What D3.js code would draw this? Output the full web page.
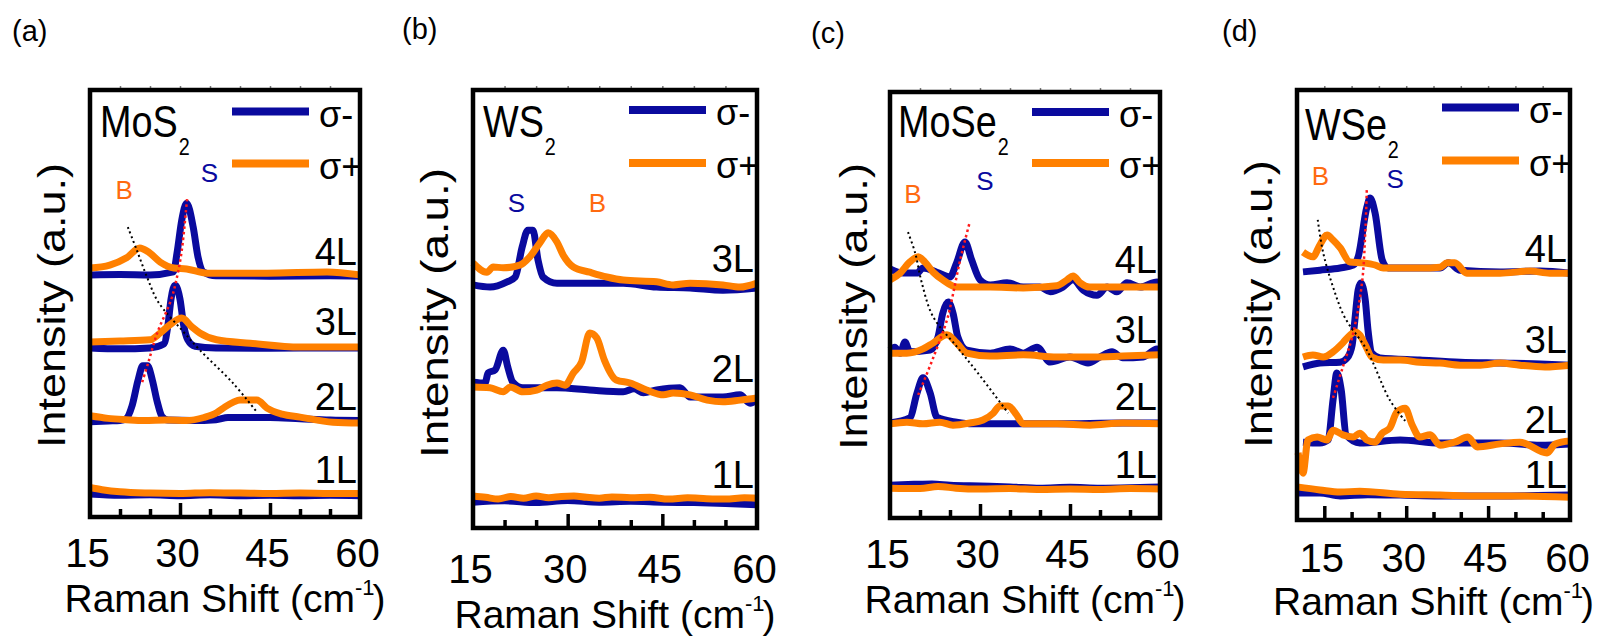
<!DOCTYPE html>
<html>
<head>
<meta charset="utf-8">
<script src="https://cdn.jsdelivr.net/npm/d3@7"></script>
<style>
  body { margin: 0; background: #fff; }
  svg { display: block; }
  text { font-family: "Liberation Sans", Arial, sans-serif; }
</style>
</head>
<body>
<svg id="chart" width="1604" height="639"></svg>
<script>
// ---- data (x = Raman shift in cm-1, y = intensity in a.u., stacked) ----
const panelLetters = ['(a)', '(b)', '(c)', '(d)'];
const materials = [['MoS', '2'], ['WS', '2'], ['MoSe', '2'], ['WSe', '2']];
const xDomains = [[15, 60], [15, 60], [15, 60], [10, 60]];
const tickLabels = [15, 30, 45, 60];
const majorTicks = [[30, 45], [30, 45], [30, 45], [15, 30, 45]];
const minorTicks = [20, 25, 35, 40, 50, 55];
const legendLabels = ['σ-', 'σ+'];

// MoS2
const mos2Minus = [
  [[15,5.4],[20,5.1],[25,5.2],[30,5.0],[35,5.2],[40,5.0],[45,5.1],[50,5.0],[55,5.1],[60,5.0]],
  [[15,22.3],[18,22.5],[20,22.6],[21,23],[22,26],[23,32],[23.8,35.4],[24.6,35.4],[25.4,32],[26.2,27],[27,23.5],[28,22.7],[32,22.6],[36,22.8],[38,23.3],[45,23.3],[50,23.0],[55,22.7],[60,22.6]],
  [[15,39.6],[20,39.4],[25,39.6],[27.3,40.5],[28,45],[28.5,51],[29.2,54.3],[30,51],[30.6,45],[31.3,41.5],[32.5,40],[36,39.6],[45,39.5],[55,39.6],[60,39.6]],
  [[15,56.7],[20,56.8],[25,56.7],[28.9,57.4],[29.5,61.8],[30.3,69.6],[31.1,73.5],[32.2,67.9],[33,60.9],[33.9,57.4],[36,56.5],[45,56.4],[55,56.5],[60,56.4]]
];
const mos2Plus = [
  [[15,6.9],[17,6.4],[20,5.9],[25,5.6],[30,5.5],[35,5.7],[40,5.6],[45,5.5],[50,5.6],[55,5.5],[60,5.5]],
  [[15,23.7],[18,23.1],[21,22.8],[24,22.6],[27.8,22.7],[31,22.6],[34,23.3],[36.1,24.4],[37.5,25.8],[38.9,26.9],[40,27.4],[42.8,27.4],[44.5,25.5],[47,24.1],[50,23.4],[55.5,22.2],[60,22.0]],
  [[15,41.0],[20,41.2],[25,41.5],[26.7,43.1],[28.3,45.0],[30.3,46.6],[32,44.5],[33.3,43.1],[36.1,41.5],[41.7,40.7],[50,39.8],[60,39.8]],
  [[15,58.3],[18.3,59.0],[21.1,60.7],[23.3,63.0],[24.7,62.1],[26.7,59.7],[29,58.3],[31.1,58.1],[34.5,57.1],[44.5,57.1],[54.5,57.4],[60,56.7]]
];
const mos2LayerY = [8.0, 25.1, 42.6, 59.0];
const mos2Red = [[23.7,31.6],[24.7,36.1],[26.2,43.1],[28.5,50.8],[29.5,56.2],[30.3,62.5],[31.2,74.9]];
const mos2Black = [[21.3,67.9],[22.8,62.5],[24.5,56.2],[26.4,50.3],[30.3,43.8],[33.3,39.1],[38.8,31.4],[42.8,24.6]];
const mos2Peaks = [{ t: 'B', x: 20.7, y: 74.5 }, { t: 'S', x: 34.9, y: 78.5 }];

// WS2
const ws2Minus = [
  [[15,5.9],[20,6.2],[25,5.8],[30,6.3],[35,5.9],[40,6.1],[45,5.9],[50,5.8],[55,5.6],[60,5.3]],
  [[15,33.3],[16.9,33.1],[17.4,35.4],[18.5,36.1],[19.8,40.6],[20.5,36.8],[21.3,33.3],[22.9,32.0],[28.3,32.0],[33.5,31.5],[38.8,31.1],[40.5,31.8],[42,30.9],[44.1,31.5],[47.8,32.0],[49.4,29.9],[54.6,29.9],[57.3,30.4],[58.9,28.5],[60,29.2]],
  [[15,55.5],[17.7,55.0],[20.4,56.2],[21.7,57.3],[22.8,64.2],[23.7,68.0],[24.5,68.0],[25.3,61.2],[26.1,57.3],[28.3,55.9],[33.5,55.9],[38.8,55.9],[44.1,55.0],[49.4,54.8],[54.6,54.3],[60,54.8]]
];
const ws2Plus = [
  [[15,7.3],[17,7.0],[19,6.6],[21,7.2],[23,6.8],[25,7.3],[27,6.9],[29,7.2],[31,7.3],[33,7.0],[35,6.8],[37,7.1],[40,6.9],[43,7.0],[46,6.6],[49,6.9],[52,6.7],[55,6.6],[58,6.9],[60,6.8]],
  [[15,32.2],[17.7,32.0],[19.8,31.1],[20.9,32.2],[22.9,31.1],[25.1,31.5],[26.7,32.6],[28.3,33.1],[29.6,32.6],[30.9,35.4],[32.2,37.9],[33.5,44.5],[34.6,43.4],[35.8,38.4],[37.7,33.8],[39.9,33.1],[42.5,31.5],[45.2,30.4],[46.7,30.8],[49.4,30.4],[52.1,29.2],[54.6,28.8],[57.3,29.2],[60,29.7]],
  [[15,60.5],[17.2,58.4],[18.2,59.6],[19.8,59.4],[22.4,60.0],[24,61.9],[25.6,65.1],[26.9,67.4],[28.3,65.3],[29.3,62.3],[30.9,59.6],[33.5,58.4],[36.2,57.3],[38.8,56.6],[44.1,56.2],[46.7,55.5],[49.4,55.9],[54.6,55.5],[57.3,55.0],[60,55.9]]
];
const ws2LayerY = [9.1, 33.3, 58.4];
const ws2Peaks = [{ t: 'S', x: 21.9, y: 72.1 }, { t: 'B', x: 34.7, y: 72.1 }];

// MoSe2
const mose2Minus = [
  [[15,7.7],[19,7.9],[22,8.0],[25,7.7],[30,7.5],[35,7.3],[40,7.0],[45,7.2],[50,7.0],[55,7.1],[60,7.3]],
  [[15,22.3],[18.3,23.5],[19.5,29.3],[20.5,32.9],[21.7,29.3],[22.8,23.7],[26.1,22.5],[28.8,22.1],[36.1,22.1],[42.8,22.1],[53.8,22.3],[60,22.3]],
  [[15,39.4],[15.8,40.1],[16.7,38.7],[17.5,41.3],[18.3,39.0],[21.7,39.4],[23,42.5],[23.8,48.1],[24.7,50.7],[25.5,48.1],[26.3,42.5],[27.8,39.4],[31.7,38.7],[35,39.7],[37.2,38.7],[39.5,40.1],[41.7,36.6],[45,37.8],[48,36.4],[50,37.8],[52,39.0],[53.8,37.6],[57.2,37.8],[59.5,39.7],[60,39.5]],
  [[15,58.5],[17.2,57.5],[19.5,57.5],[20.5,58.7],[22.8,57.7],[25,56.6],[26.1,59.9],[27.5,64.8],[28.6,60.6],[30,55.9],[31.7,54.7],[34.5,55.2],[37.2,54.2],[40,54.2],[41.7,53.1],[43.8,54.2],[45.5,55.9],[47.2,53.5],[49.5,52.3],[51.2,54.2],[52.8,53.1],[54.5,55.2],[56.7,54.2],[59.5,55.4],[60,55.3]]
];
const mose2Plus = [
  [[15,7.0],[20,6.9],[23,7.4],[26,7.0],[30,6.8],[35,6.9],[40,6.7],[45,6.8],[50,6.7],[55,6.9],[60,6.8]],
  [[15,22.1],[17.8,22.5],[20.5,22.1],[23.3,22.5],[25.5,21.8],[28.3,22.3],[30.5,23.0],[32.2,24.6],[33.3,26.3],[34.7,26.3],[36.1,24.2],[37.2,22.1],[42.8,22.1],[48.3,21.8],[53.8,22.3],[60,22.1]],
  [[15,38.7],[17.8,38.7],[20.5,39.7],[22.2,41.1],[24.5,43.0],[26.1,41.1],[27.8,38.7],[31.7,38.0],[37.2,38.3],[42.8,37.8],[48.3,37.8],[53.8,38.0],[60,38.3]],
  [[15,55.9],[16.7,57.5],[18.3,60.1],[19.7,61.3],[20.8,60.1],[22.2,57.7],[23.8,55.9],[26.1,54.2],[31.7,54.2],[37.2,54.0],[42.8,54.5],[44.5,55.9],[45.5,56.8],[46.7,55.2],[48.3,54.2],[53.8,54.2],[60,54.2]]
];
const mose2LayerY = [9.4, 25.4, 41.1, 57.5];
const mose2Red = [[19.7,28.9],[22.2,37.6],[24.5,46.5],[25.3,51.2],[26.7,60.6],[28.3,69.5]];
const mose2Black = [[18,67.1],[19.2,62.2],[20.3,55.2],[22.2,47.2],[26.2,40.1],[29.5,34.3],[34.7,24.6]];
const mose2Peaks = [{ t: 'B', x: 18.8, y: 73.9 }, { t: 'S', x: 30.8, y: 77.0 }];

// WSe2
const wse2Minus = [
  [[10,6.3],[14.2,6.3],[17.9,5.6],[23,5.9],[28.9,5.8],[36,5.6],[47.2,5.6],[54,5.7],[60,5.8]],
  [[11.1,18.1],[14.2,17.9],[15.7,18.6],[16.6,27.9],[17.3,34.2],[18.1,30.2],[19.0,19.8],[21.5,17.9],[28.9,18.6],[36.2,17.9],[47.2,17.9],[54.5,17.4],[60,17.7]],
  [[11.1,35.6],[14.2,36.5],[17.9,36.7],[19.2,37.7],[20.1,40.7],[20.6,46.5],[21.2,53.5],[21.7,55.1],[22.5,51.2],[23.0,44.2],[23.7,38.8],[25.2,37.7],[32.5,37.2],[39.9,36.7],[47.2,36.5],[54.5,36.3],[60,36.0]],
  [[11.1,57.7],[14.2,58.1],[17.9,58.6],[20.3,59.3],[21.2,61.2],[22.8,72.8],[23.4,74.9],[24.3,71.4],[25.6,60.5],[26.7,58.6],[28.9,58.6],[36.2,58.6],[37.7,59.8],[39.9,58.1],[47.2,57.7],[54.5,57.9],[60,57.4]]
];
const wse2Plus = [
  [[10,7.7],[14.2,7.0],[17.9,6.5],[21.5,6.7],[28.9,6.0],[36.2,5.8],[43.6,5.6],[50.8,5.6],[60,5.3]],
  [[10.2,15.6],[11.1,10.9],[12.0,18.6],[13.7,19.3],[15.5,18.6],[16.6,20.9],[18.4,19.8],[20.3,19.3],[21.5,20.2],[22.8,18.6],[24.3,18.1],[25.6,20.2],[27.0,21.4],[28.3,25.1],[29.8,26.0],[31.1,22.1],[32.5,19.3],[34.4,19.8],[36.2,17.4],[38.9,18.1],[41.3,19.3],[43.0,17.0],[47.2,17.7],[50.8,18.1],[55.8,15.6],[57.3,17.7],[60,18.4]],
  [[11.1,37.9],[12.9,38.4],[14.8,37.9],[16.6,39.1],[18.4,41.2],[19.7,43.0],[20.6,43.7],[21.5,43.0],[22.5,40.7],[23.7,37.9],[25.8,37.2],[28.9,37.2],[32.5,36.7],[36.2,36.5],[39.9,36.0],[43.6,36.0],[47.2,36.5],[50.8,36.0],[55.4,35.6],[60,36.0]],
  [[11.1,62.3],[12.9,61.2],[14.2,64.0],[15.5,66.3],[16.6,65.1],[17.9,63.3],[19.7,60.0],[22.1,59.8],[24.3,59.3],[25.8,58.6],[28.9,58.6],[32.5,58.6],[36.2,58.8],[37.5,59.8],[38.9,59.8],[41.1,57.4],[47.2,57.4],[52.7,57.9],[56.3,57.4],[60,57.4]]
];
const wse2LayerY = [7.4, 20.2, 38.8, 60.0];
const wse2Red = [[16.6,28.4],[18.4,35.6],[20.3,43.5],[21.9,55.1],[22.5,66.7],[22.8,77.4]];
const wse2Black = [[13.8,69.8],[14.8,62.1],[16.6,54.2],[18.8,47.0],[22.8,39.5],[27.0,27.9],[30.1,22.6]];
const wse2Peaks = [{ t: 'B', x: 14.3, y: 77.9 }, { t: 'S', x: 28.0, y: 77.2 }];

const minusSets = [mos2Minus, ws2Minus, mose2Minus, wse2Minus];
const plusSets = [mos2Plus, ws2Plus, mose2Plus, wse2Plus];
const layerYSets = [mos2LayerY, ws2LayerY, mose2LayerY, wse2LayerY];
const redSets = [mos2Red, null, mose2Red, wse2Red];
const blackSets = [mos2Black, null, mose2Black, wse2Black];
const peakSets = [mos2Peaks, ws2Peaks, mose2Peaks, wse2Peaks];

// ---- layout ----
const frameLeft = [90, 473, 890, 1297];
const frameRight = [360, 757, 1160, 1570];
const frameTop = [90, 90, 92, 90];
const frameBottom = [517, 528, 518, 520];
const tickLabelGap = [50, 55, 50, 52];
const titleGap = [95, 100, 95, 95];
const letterPos = [[12, 41], [402, 39], [811, 43], [1222, 41]];
const yTitleX = [65, 448, 867, 1272];
const yTitleSpan = [[163, 448], [168, 458], [163, 450], [160, 448]];
const materialOffset = [[10, 47], [10, 47], [8, 45], [8, 50]];
const legendRows = [[21.5, 73.5], [20, 73], [20, 71], [17.5, 70.5]];

const blue = '#0a0a9e';
const orange = '#ff8000';
const peakColor = { B: '#ff6a10', S: '#0a0a9e' };
const lineWidth = 7;

const svg = d3.select('#chart');

function drawPanel(i) {
  const x = d3.scaleLinear().domain(xDomains[i]).range([frameLeft[i], frameRight[i]]);
  const y = d3.scaleLinear().domain([0, 100]).range([frameBottom[i], frameTop[i]]);
  const g = svg.append('g');

  const line = d3.line().x(d => x(d[0])).y(d => y(d[1])).curve(d3.curveMonotoneX);
  const guide = d3.line().x(d => x(d[0])).y(d => y(d[1])).curve(d3.curveCatmullRom);

  // spectra: sigma- first, sigma+ on top
  minusSets[i].forEach((pts, k) => {
    g.append('path').attr('d', line(pts))
      .attr('fill', 'none').attr('stroke', blue).attr('stroke-width', lineWidth).attr('stroke-linejoin', 'round');
    g.append('path').attr('d', line(plusSets[i][k]))
      .attr('fill', 'none').attr('stroke', orange).attr('stroke-width', lineWidth).attr('stroke-linejoin', 'round');
  });

  // dotted guide lines through the peaks
  if (redSets[i]) {
    g.append('path').attr('d', guide(blackSets[i]))
      .attr('fill', 'none').attr('stroke', '#000').attr('stroke-width', 2).attr('stroke-dasharray', '2,3');
    g.append('path').attr('d', guide(redSets[i]))
      .attr('fill', 'none').attr('stroke', '#ff1a1a').attr('stroke-width', 2.5).attr('stroke-dasharray', '2.5,3');
  }

  // ticks, inward on the bottom
  const bottom = g.append('g').attr('transform', `translate(0,${frameBottom[i]})`);
  bottom.append('g').call(d3.axisBottom(x).tickValues(majorTicks[i]).tickSize(-14).tickFormat(''));
  bottom.append('g').call(d3.axisBottom(x).tickValues(minorTicks).tickSize(-8).tickFormat(''));
  bottom.selectAll('.domain').remove();
  bottom.selectAll('line').attr('stroke', '#000').attr('stroke-width', 3.5);

  // tiny ticks on top
  const top = g.append('g').attr('transform', `translate(0,${frameTop[i]})`)
    .call(d3.axisTop(x).tickValues(majorTicks[i].concat(minorTicks)).tickSize(4).tickFormat(''));
  top.select('.domain').remove();
  top.selectAll('line').attr('stroke', '#777').attr('stroke-width', 1.5);

  // tick labels
  const labels = g.append('g').attr('transform', `translate(0,${frameBottom[i]})`)
    .call(d3.axisBottom(x).tickValues(tickLabels).tickSize(0).tickPadding(tickLabelGap[i] - 28.4));
  labels.select('.domain').remove();
  labels.selectAll('text')
    .attr('font-size', 40).attr('font-family', '"Liberation Sans", Arial, sans-serif')
    .attr('fill', '#000').attr('dx', -3);

  // frame
  g.append('rect')
    .attr('x', frameLeft[i]).attr('y', frameTop[i])
    .attr('width', frameRight[i] - frameLeft[i]).attr('height', frameBottom[i] - frameTop[i])
    .attr('fill', 'none').attr('stroke', '#000').attr('stroke-width', 4.5);

  // panel letter
  g.append('text').attr('x', letterPos[i][0]).attr('y', letterPos[i][1])
    .attr('font-size', 29).text(panelLetters[i]);

  // axis titles
  const [ya, yb] = yTitleSpan[i];
  g.append('text')
    .attr('transform', `translate(${yTitleX[i]},${(ya + yb) / 2}) rotate(-90)`)
    .attr('text-anchor', 'middle').attr('font-size', 38)
    .attr('textLength', yb - ya).attr('lengthAdjust', 'spacingAndGlyphs')
    .text('Intensity (a.u.)');

  const xt = g.append('text')
    .attr('x', (frameLeft[i] + frameRight[i]) / 2).attr('y', frameBottom[i] + titleGap[i])
    .attr('text-anchor', 'middle').attr('font-size', 39);
  xt.append('tspan').text('Raman Shift (cm');
  xt.append('tspan').attr('font-size', 22).attr('dy', -17).text('-1');
  xt.append('tspan').attr('dy', 17).attr('dx', -2).text(')');

  // material name, slightly condensed
  const mg = g.append('g')
    .attr('transform', `translate(${frameLeft[i] + materialOffset[i][0]},${frameTop[i] + materialOffset[i][1]}) scale(0.86,1)`);
  const mt = mg.append('text').attr('font-size', 44);
  mt.append('tspan').text(materials[i][0]);
  mt.append('tspan').attr('font-size', 23).attr('dy', 18).attr('dx', 1).text(materials[i][1]);

  // legend
  legendLabels.forEach((lab, k) => {
    const ly = frameTop[i] + legendRows[i][k];
    g.append('line')
      .attr('x1', frameRight[i] - 128).attr('x2', frameRight[i] - 51)
      .attr('y1', ly).attr('y2', ly)
      .attr('stroke', k === 0 ? blue : orange).attr('stroke-width', 8);
    g.append('text').attr('x', frameRight[i] - 41).attr('y', ly + 15)
      .attr('font-size', 36).text(lab);
  });

  // peak labels
  peakSets[i].forEach(p => {
    g.append('text').attr('x', x(p.x)).attr('y', y(p.y))
      .attr('text-anchor', 'middle').attr('font-size', 26)
      .attr('fill', peakColor[p.t]).text(p.t);
  });

  // layer labels
  layerYSets[i].forEach((v, k) => {
    g.append('text').attr('x', x(xDomains[i][1])).attr('y', y(v)).attr('dx', -3)
      .attr('text-anchor', 'end').attr('font-size', 38).text((k + 1) + 'L');
  });
}

[0, 1, 2, 3].forEach(drawPanel);
</script>
</body>
</html>
